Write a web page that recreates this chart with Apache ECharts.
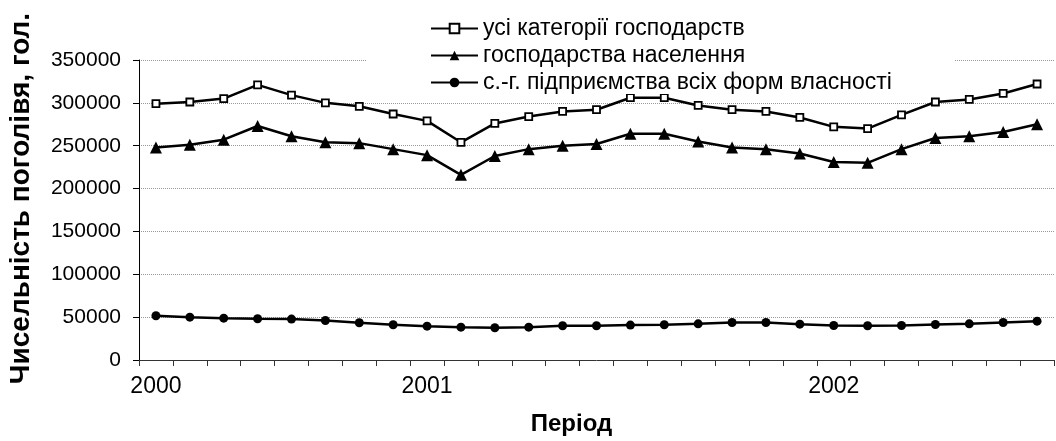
<!DOCTYPE html>
<html>
<head>
<meta charset="utf-8">
<title>Чисельність поголівя</title>
<script src="https://cdn.jsdelivr.net/npm/echarts@6.0.0/dist/echarts.min.js"></script>
<style>
  html, body { margin: 0; padding: 0; background: #fff; }
  #main { width: 1056px; height: 441px; }
</style>
</head>
<body>
<div id="main"></div>
<script>
// 27 periods, only three carry a label
const periods = ['2000', '', '', '', '', '', '', '', '2001', '', '', '', '', '', '', '', '', '', '', '', '2002', '', '', '', '', '', '']

const allFarms = [299000, 301000, 305000, 321000, 309000, 300000, 296000, 287000, 279000, 254000, 276000, 284000, 290000, 292000, 306000, 306000, 297000, 292000, 290000, 283000, 272000, 270000, 286000, 301000, 304000, 311000, 322000]
const households = [248000, 251000, 257000, 273000, 261000, 254000, 253000, 246000, 239000, 216000, 238000, 246000, 250000, 252000, 264000, 264000, 255000, 248000, 246000, 241000, 231000, 230000, 246000, 259000, 261000, 266000, 275000]
const enterprises = [51600, 50000, 48800, 48100, 47700, 46100, 43400, 41100, 39500, 38300, 37600, 38300, 39900, 39900, 40700, 41100, 42200, 43800, 43800, 41800, 40300, 39900, 40300, 41400, 42200, 43800, 45300]

const yTicks = [0, 50000, 100000, 150000, 200000, 250000, 300000, 350000]

const font = 'Liberation Sans, Arial, sans-serif'

const myChart = echarts.init(document.getElementById('main'))

const option = {
  animation: false,
  backgroundColor: '#fff',
  textStyle: { fontFamily: font, color: '#000' },
  grid: {
    left: 139,
    right: 2,
    top: 60,
    bottom: 81,
    outerBoundsMode: 'none'
  },
  legend: {
    orient: 'vertical',
    left: 366,
    top: 9,
    padding: [8, 63, 0, 64],
    backgroundColor: '#fff',
    itemWidth: 47,
    itemHeight: 12,
    itemGap: 4,
    textStyle: { fontFamily: font, fontSize: 23, color: '#000', lineHeight: 23 },
    data: ['усі категорії господарств', 'господарства населення', 'с.-г. підприємства всіх форм власності']
  },
  xAxis: {
    type: 'category',
    data: periods,
    boundaryGap: true,
    name: 'Період',
    nameLocation: 'middle',
    nameGap: 52,
    nameTextStyle: { fontFamily: font, fontSize: 24, fontWeight: 'bold', color: '#000', padding: [0, 50, 0, 0] },
    axisLine: { lineStyle: { color: '#333', width: 1 } },
    axisTick: { show: true, interval: 0, length: 6, lineStyle: { color: '#333' } },
    axisLabel: { interval: 0, margin: 15, fontFamily: font, fontSize: 23, color: '#000' },
    splitLine: { show: false }
  },
  yAxis: {
    type: 'value',
    min: yTicks[0],
    max: yTicks[yTicks.length - 1],
    interval: yTicks[1] - yTicks[0],
    name: 'Чисельність поголівя, гол.',
    nameLocation: 'middle',
    nameGap: 104,
    nameTextStyle: { fontFamily: font, fontSize: 28, fontWeight: 'bold', color: '#000', padding: [0, 0, 0, 23] },
    axisLine: { show: true, lineStyle: { color: '#000', width: 1 } },
    axisTick: { show: true, length: 6, lineStyle: { color: '#000' } },
    axisLabel: {
      margin: 18,
      fontFamily: font,
      fontSize: 21,
      color: '#000',
      formatter: function(v) {
        return String(v)
      }
    },
    splitLine: { show: true, lineStyle: { color: '#999', width: 1, type: [1, 1] } }
  },
  series: [
    {
      name: 'усі категорії господарств',
      type: 'line',
      data: allFarms,
      symbol: 'rect',
      symbolSize: 7,
      lineStyle: { color: '#000', width: 2.5 },
      itemStyle: { color: '#fff', borderColor: '#000', borderWidth: 1.8 }
    },
    {
      name: 'господарства населення',
      type: 'line',
      data: households,
      symbol: 'triangle',
      symbolSize: 12,
      lineStyle: { color: '#000', width: 2.5 },
      itemStyle: { color: '#000' }
    },
    {
      name: 'с.-г. підприємства всіх форм власності',
      type: 'line',
      data: enterprises,
      symbol: 'circle',
      symbolSize: 9,
      lineStyle: { color: '#000', width: 2.5 },
      itemStyle: { color: '#000' }
    }
  ]
}

myChart.setOption(option)
</script>
</body>
</html>
